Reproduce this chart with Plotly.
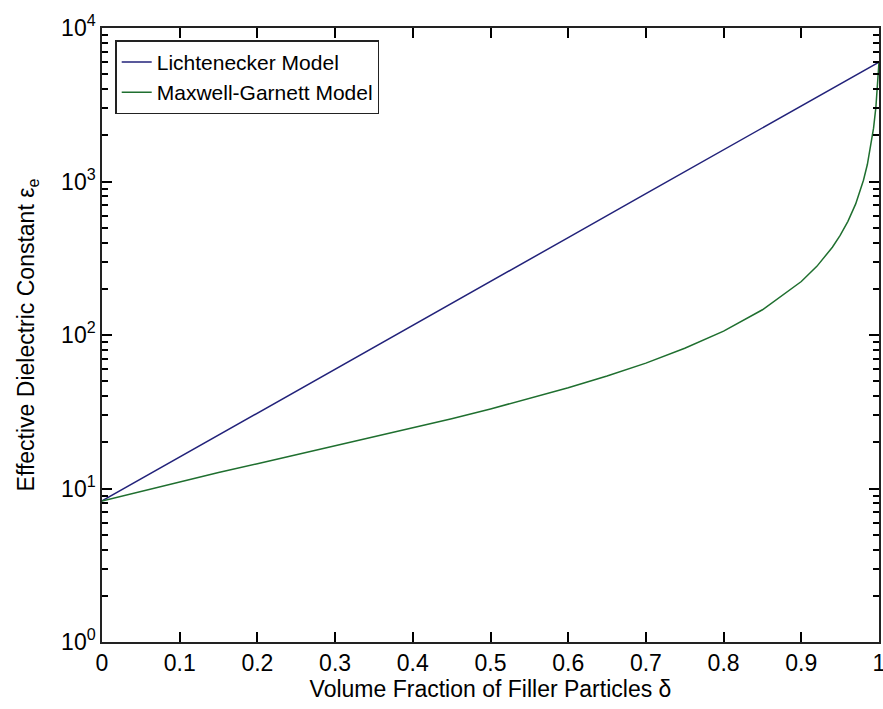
import plotly.graph_objects as go

# Data
delta_L = [0.0, 0.1, 0.2, 0.3, 0.4, 0.5, 0.6, 0.7, 0.8, 0.9, 1.0]
eps_L = [8.3, 16.0, 31.0, 60.0, 116, 223, 431, 833, 1610, 3110, 6000]

delta_MG = [0.0, 0.05, 0.1, 0.15, 0.2, 0.25, 0.3, 0.35, 0.4, 0.45, 0.5, 0.55, 0.6,
            0.65, 0.7, 0.75, 0.8, 0.85, 0.9, 0.92, 0.94, 0.95, 0.96, 0.97, 0.98,
            0.985, 0.99, 0.993, 0.996, 0.998, 1.0]
eps_MG = [8.3, 9.6, 11.1, 12.7, 14.5, 16.6, 18.9, 21.6, 24.8, 28.5, 33.0, 38.5, 45.3,
          54.0, 65.6, 82, 106, 146, 223, 280, 373, 445, 550, 715, 1020,
          1290, 1750, 2225, 3050, 4045, 6000]

x_tickvals = [0, 0.1, 0.2, 0.3, 0.4, 0.5, 0.6, 0.7, 0.8, 0.9, 1]
x_ticktext = ["0", "0.1", "0.2", "0.3", "0.4", "0.5", "0.6", "0.7", "0.8", "0.9", "1"]
y_tickvals = [1, 10, 100, 1000, 10000]
y_ticktext = ["10<sup>0</sup>", "10<sup>1</sup>", "10<sup>2</sup>", "10<sup>3</sup>", "10<sup>4</sup>"]

minor_y = [m * 10 ** d for d in range(4) for m in range(2, 10)]

FONT = "Liberation Sans, Arial, sans-serif"
FS = 23

fig = go.Figure()
fig.add_trace(go.Scatter(x=delta_L, y=eps_L, mode="lines", name="Lichtenecker Model",
                         line=dict(color="#22227a", width=1.5)))
# drawn against the overlaid log axis (identical range) that carries the minor ticks
fig.add_trace(go.Scatter(x=delta_MG, y=eps_MG, mode="lines", name="Maxwell-Garnett Model",
                         line=dict(color="#1f6f2f", width=1.5), yaxis="y2"))

fig.update_layout(
    width=883, height=709,
    margin=dict(l=102, r=4, t=28, b=67),
    paper_bgcolor="white", plot_bgcolor="white",
    font=dict(family=FONT, size=FS, color="black"),
    showlegend=True,
    legend=dict(x=0.017, y=0.98, xanchor="left", yanchor="top",
                bgcolor="white", bordercolor="#222222", borderwidth=1.5,
                font=dict(family=FONT, size=21, color="black"),
                tracegroupgap=0),
    yaxis2=dict(
        type="log", range=[0, 4], overlaying="y", anchor="x", side="left",
        tickmode="array", tickvals=minor_y, showticklabels=False,
        ticks="inside", ticklen=6, tickwidth=2, tickcolor="black",
        mirror="ticks", showline=False, showgrid=False, zeroline=False,
        automargin=False, layer="above traces",
    ),
)
fig.update_xaxes(
    range=[0, 1], tickvals=x_tickvals, ticktext=x_ticktext,
    ticks="inside", ticklen=10, tickwidth=2, tickcolor="black",
    showline=True, linecolor="#222222", linewidth=1.5, mirror="ticks",
    showgrid=False, zeroline=False, ticklabeloverflow="allow",
    tickfont=dict(family=FONT, size=FS, color="black"),
    title=dict(text="Volume Fraction of Filler Particles δ",
               font=dict(family=FONT, size=FS, color="black"), standoff=5),
    automargin=False, layer="above traces",
)
fig.update_layout(yaxis=dict(
    type="log", range=[0, 4], tickmode="array", tickvals=y_tickvals, ticktext=y_ticktext,
    ticks="inside", ticklen=10, tickwidth=2, tickcolor="black",
    showline=True, linecolor="#222222", linewidth=1.5, mirror="ticks",
    showgrid=False, zeroline=False, ticklabeloverflow="allow",
    tickfont=dict(family=FONT, size=FS, color="black"),
    title=dict(text="Effective Dielectric Constant ε<sub>e</sub>",
               font=dict(family=FONT, size=FS, color="black"), standoff=20),
    automargin=False, layer="above traces",
))

fig.write_html("out.html")
